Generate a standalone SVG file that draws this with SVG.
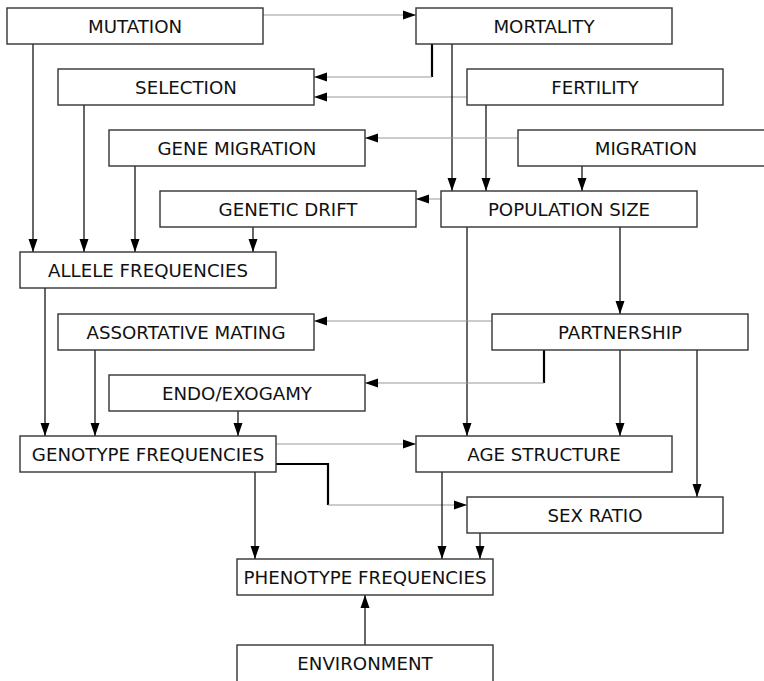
<svg xmlns="http://www.w3.org/2000/svg" width="764" height="681" viewBox="0 0 764 681">
<style>
.box rect{fill:#fff;stroke:#333;stroke-width:1.4}
.box text{font-family:"DejaVu Sans",Verdana,sans-serif;font-size:18.2px;fill:#111;text-anchor:middle}
.k{stroke:#000;stroke-width:1.2;fill:none}
.g{stroke:#999;stroke-width:1;fill:none}
.t{stroke:#000;stroke-width:2.2;fill:none}
</style>
<defs>
<marker id="a" markerUnits="userSpaceOnUse" markerWidth="14" markerHeight="10" refX="13" refY="5" orient="auto">
<path d="M0,0.5 L13,5 L0,9.5 Z" fill="#000"/>
</marker>
</defs>
<rect width="764" height="681" fill="#fff"/>
<g id="connectors">
<line class="g" x1="263" y1="15" x2="416" y2="15" marker-end="url(#a)"/>
<polyline class="t" points="432,44 432,77"/>
<line class="g" x1="432" y1="77" x2="314" y2="77" marker-end="url(#a)"/>
<line class="g" x1="467" y1="97" x2="314" y2="97" marker-end="url(#a)"/>
<line class="k" x1="452" y1="44" x2="452" y2="191" marker-end="url(#a)"/>
<line class="k" x1="486" y1="105" x2="486" y2="191" marker-end="url(#a)"/>
<line class="k" x1="582" y1="166" x2="582" y2="191" marker-end="url(#a)"/>
<line class="g" x1="518" y1="138" x2="365" y2="138" marker-end="url(#a)"/>
<line class="g" x1="441" y1="199" x2="416" y2="199" marker-end="url(#a)"/>
<line class="k" x1="33" y1="44" x2="33" y2="252" marker-end="url(#a)"/>
<line class="k" x1="84" y1="105" x2="84" y2="252" marker-end="url(#a)"/>
<line class="k" x1="135" y1="166" x2="135" y2="252" marker-end="url(#a)"/>
<line class="k" x1="253" y1="227" x2="253" y2="252" marker-end="url(#a)"/>
<line class="k" x1="620" y1="227" x2="620" y2="314" marker-end="url(#a)"/>
<line class="k" x1="467" y1="227" x2="467" y2="436" marker-end="url(#a)"/>
<line class="g" x1="492" y1="321" x2="314" y2="321" marker-end="url(#a)"/>
<polyline class="t" points="544,350 544,383"/>
<line class="g" x1="544" y1="383" x2="365" y2="383" marker-end="url(#a)"/>
<line class="k" x1="620" y1="350" x2="620" y2="436" marker-end="url(#a)"/>
<line class="k" x1="697" y1="350" x2="697" y2="497" marker-end="url(#a)"/>
<line class="k" x1="45" y1="288" x2="45" y2="436" marker-end="url(#a)"/>
<line class="k" x1="95" y1="350" x2="95" y2="436" marker-end="url(#a)"/>
<line class="k" x1="238" y1="411" x2="238" y2="436" marker-end="url(#a)"/>
<line class="g" x1="276" y1="444" x2="416" y2="444" marker-end="url(#a)"/>
<polyline class="t" points="276,464 328,464 328,505"/>
<line class="g" x1="328" y1="505" x2="467" y2="505" marker-end="url(#a)"/>
<line class="k" x1="255" y1="472" x2="255" y2="559" marker-end="url(#a)"/>
<line class="k" x1="442" y1="472" x2="442" y2="559" marker-end="url(#a)"/>
<line class="k" x1="480" y1="533" x2="480" y2="559" marker-end="url(#a)"/>
<line class="k" x1="365" y1="645" x2="365" y2="595" marker-end="url(#a)"/>
</g>
<g id="mutation" class="box"><rect x="7" y="8" width="256" height="36"/><text x="135" y="33">MUTATION</text></g>
<g id="mortality" class="box"><rect x="416" y="8" width="256" height="36"/><text x="544" y="33">MORTALITY</text></g>
<g id="selection" class="box"><rect x="58" y="69" width="256" height="36"/><text x="186" y="94">SELECTION</text></g>
<g id="fertility" class="box"><rect x="467" y="69" width="256" height="36"/><text x="595" y="94">FERTILITY</text></g>
<g id="gene-migration" class="box"><rect x="109" y="130" width="256" height="36"/><text x="237" y="155">GENE MIGRATION</text></g>
<g id="migration" class="box"><rect x="518" y="130" width="256" height="36"/><text x="646" y="155">MIGRATION</text></g>
<g id="genetic-drift" class="box"><rect x="160" y="191" width="256" height="36"/><text x="288" y="216">GENETIC DRIFT</text></g>
<g id="population-size" class="box"><rect x="441" y="191" width="256" height="36"/><text x="569" y="216">POPULATION SIZE</text></g>
<g id="allele-frequencies" class="box"><rect x="20" y="252" width="256" height="36"/><text x="148" y="277">ALLELE FREQUENCIES</text></g>
<g id="assortative-mating" class="box"><rect x="58" y="314" width="256" height="36"/><text x="186" y="339">ASSORTATIVE MATING</text></g>
<g id="partnership" class="box"><rect x="492" y="314" width="256" height="36"/><text x="620" y="339">PARTNERSHIP</text></g>
<g id="endo-exogamy" class="box"><rect x="109" y="375" width="256" height="36"/><text x="237" y="400">ENDO/EXOGAMY</text></g>
<g id="genotype-frequencies" class="box"><rect x="20" y="436" width="256" height="36"/><text x="148" y="461">GENOTYPE FREQUENCIES</text></g>
<g id="age-structure" class="box"><rect x="416" y="436" width="256" height="36"/><text x="544" y="461">AGE STRUCTURE</text></g>
<g id="sex-ratio" class="box"><rect x="467" y="497" width="256" height="36"/><text x="595" y="522">SEX RATIO</text></g>
<g id="phenotype-frequencies" class="box"><rect x="237" y="559" width="256" height="36"/><text x="365" y="584">PHENOTYPE FREQUENCIES</text></g>
<g id="environment" class="box"><rect x="237" y="645" width="256" height="40"/><text x="365" y="670">ENVIRONMENT</text></g>
</svg>
